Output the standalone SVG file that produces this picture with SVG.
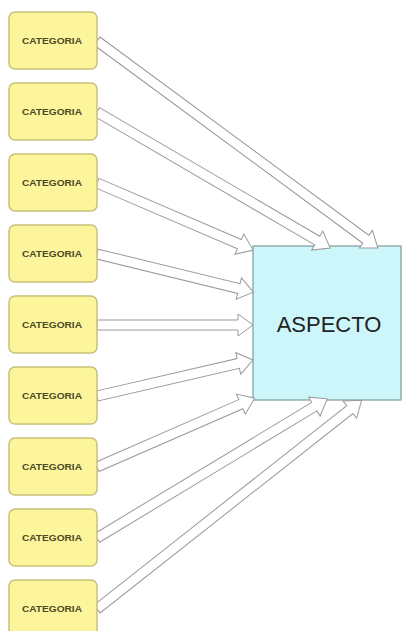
<svg xmlns="http://www.w3.org/2000/svg" width="403" height="631" viewBox="0 0 403 631">
<defs>
<style>
.cat rect{fill:#fcf59c;stroke:#c8c07a;stroke-width:1.5}
.cat text{font-family:"Liberation Sans",Arial,sans-serif;font-size:8.5px;font-weight:bold;fill:#4d4a24;text-anchor:middle}
.arr{fill:#ffffff;stroke:#9a9a9a;stroke-width:1}
#aspecto rect{fill:#cdf6fa;stroke:#7f9c9c;stroke-width:1.2}
#aspecto text{font-family:"Liberation Sans",Arial,sans-serif;font-size:22px;fill:#222;text-anchor:middle}
</style>
</defs>
<rect width="403" height="631" fill="#ffffff"/>
<g id="aspecto">
<rect x="253" y="246" width="148" height="154"/>
<text x="329" y="332">ASPECTO</text>
</g>
<g id="connectors">
<path class="arr" transform="translate(97,41) rotate(36.4)" d="M0,-5 H334 V-11 L349,0 L334,11 V5 H0 Z"/>
<path class="arr" transform="translate(97,112) rotate(30.27)" d="M0,-5 H255 V-11 L270,0 L255,11 V5 H0 Z"/>
<path class="arr" transform="translate(97,183) rotate(23.24)" d="M0,-5 H155 V-11 L170,0 L155,11 V5 H0 Z"/>
<path class="arr" transform="translate(97,254) rotate(13.69)" d="M0,-5 H146 V-11 L161,0 L146,11 V5 H0 Z"/>
<path class="arr" transform="translate(97,325)" d="M0,-5 H141 V-11 L156,0 L141,11 V5 H0 Z"/>
<path class="arr" transform="translate(97,396) rotate(-12.99)" d="M0,-5 H145 V-11 L160,0 L145,11 V5 H0 Z"/>
<path class="arr" transform="translate(97,467) rotate(-23.59)" d="M0,-5 H157 V-11 L172,0 L157,11 V5 H0 Z"/>
<path class="arr" transform="translate(97,538) rotate(-31.15)" d="M0,-5 H254 V-11 L269,0 L254,11 V5 H0 Z"/>
<path class="arr" transform="translate(97,609) rotate(-38.26)" d="M0,-5 H322 V-11 L337,0 L322,11 V5 H0 Z"/>
</g>
<g id="cat1" class="cat"><rect x="9" y="12" width="88" height="57" rx="6"/><text x="52" y="44" textLength="60" lengthAdjust="spacingAndGlyphs">CATEGORIA</text></g>
<g id="cat2" class="cat"><rect x="9" y="83" width="88" height="57" rx="6"/><text x="52" y="115" textLength="60" lengthAdjust="spacingAndGlyphs">CATEGORIA</text></g>
<g id="cat3" class="cat"><rect x="9" y="154" width="88" height="57" rx="6"/><text x="52" y="186" textLength="60" lengthAdjust="spacingAndGlyphs">CATEGORIA</text></g>
<g id="cat4" class="cat"><rect x="9" y="225" width="88" height="57" rx="6"/><text x="52" y="257" textLength="60" lengthAdjust="spacingAndGlyphs">CATEGORIA</text></g>
<g id="cat5" class="cat"><rect x="9" y="296" width="88" height="57" rx="6"/><text x="52" y="328" textLength="60" lengthAdjust="spacingAndGlyphs">CATEGORIA</text></g>
<g id="cat6" class="cat"><rect x="9" y="367" width="88" height="57" rx="6"/><text x="52" y="399" textLength="60" lengthAdjust="spacingAndGlyphs">CATEGORIA</text></g>
<g id="cat7" class="cat"><rect x="9" y="438" width="88" height="57" rx="6"/><text x="52" y="470" textLength="60" lengthAdjust="spacingAndGlyphs">CATEGORIA</text></g>
<g id="cat8" class="cat"><rect x="9" y="509" width="88" height="57" rx="6"/><text x="52" y="541" textLength="60" lengthAdjust="spacingAndGlyphs">CATEGORIA</text></g>
<g id="cat9" class="cat"><rect x="9" y="580" width="88" height="57" rx="6"/><text x="52" y="612" textLength="60" lengthAdjust="spacingAndGlyphs">CATEGORIA</text></g>
</svg>
